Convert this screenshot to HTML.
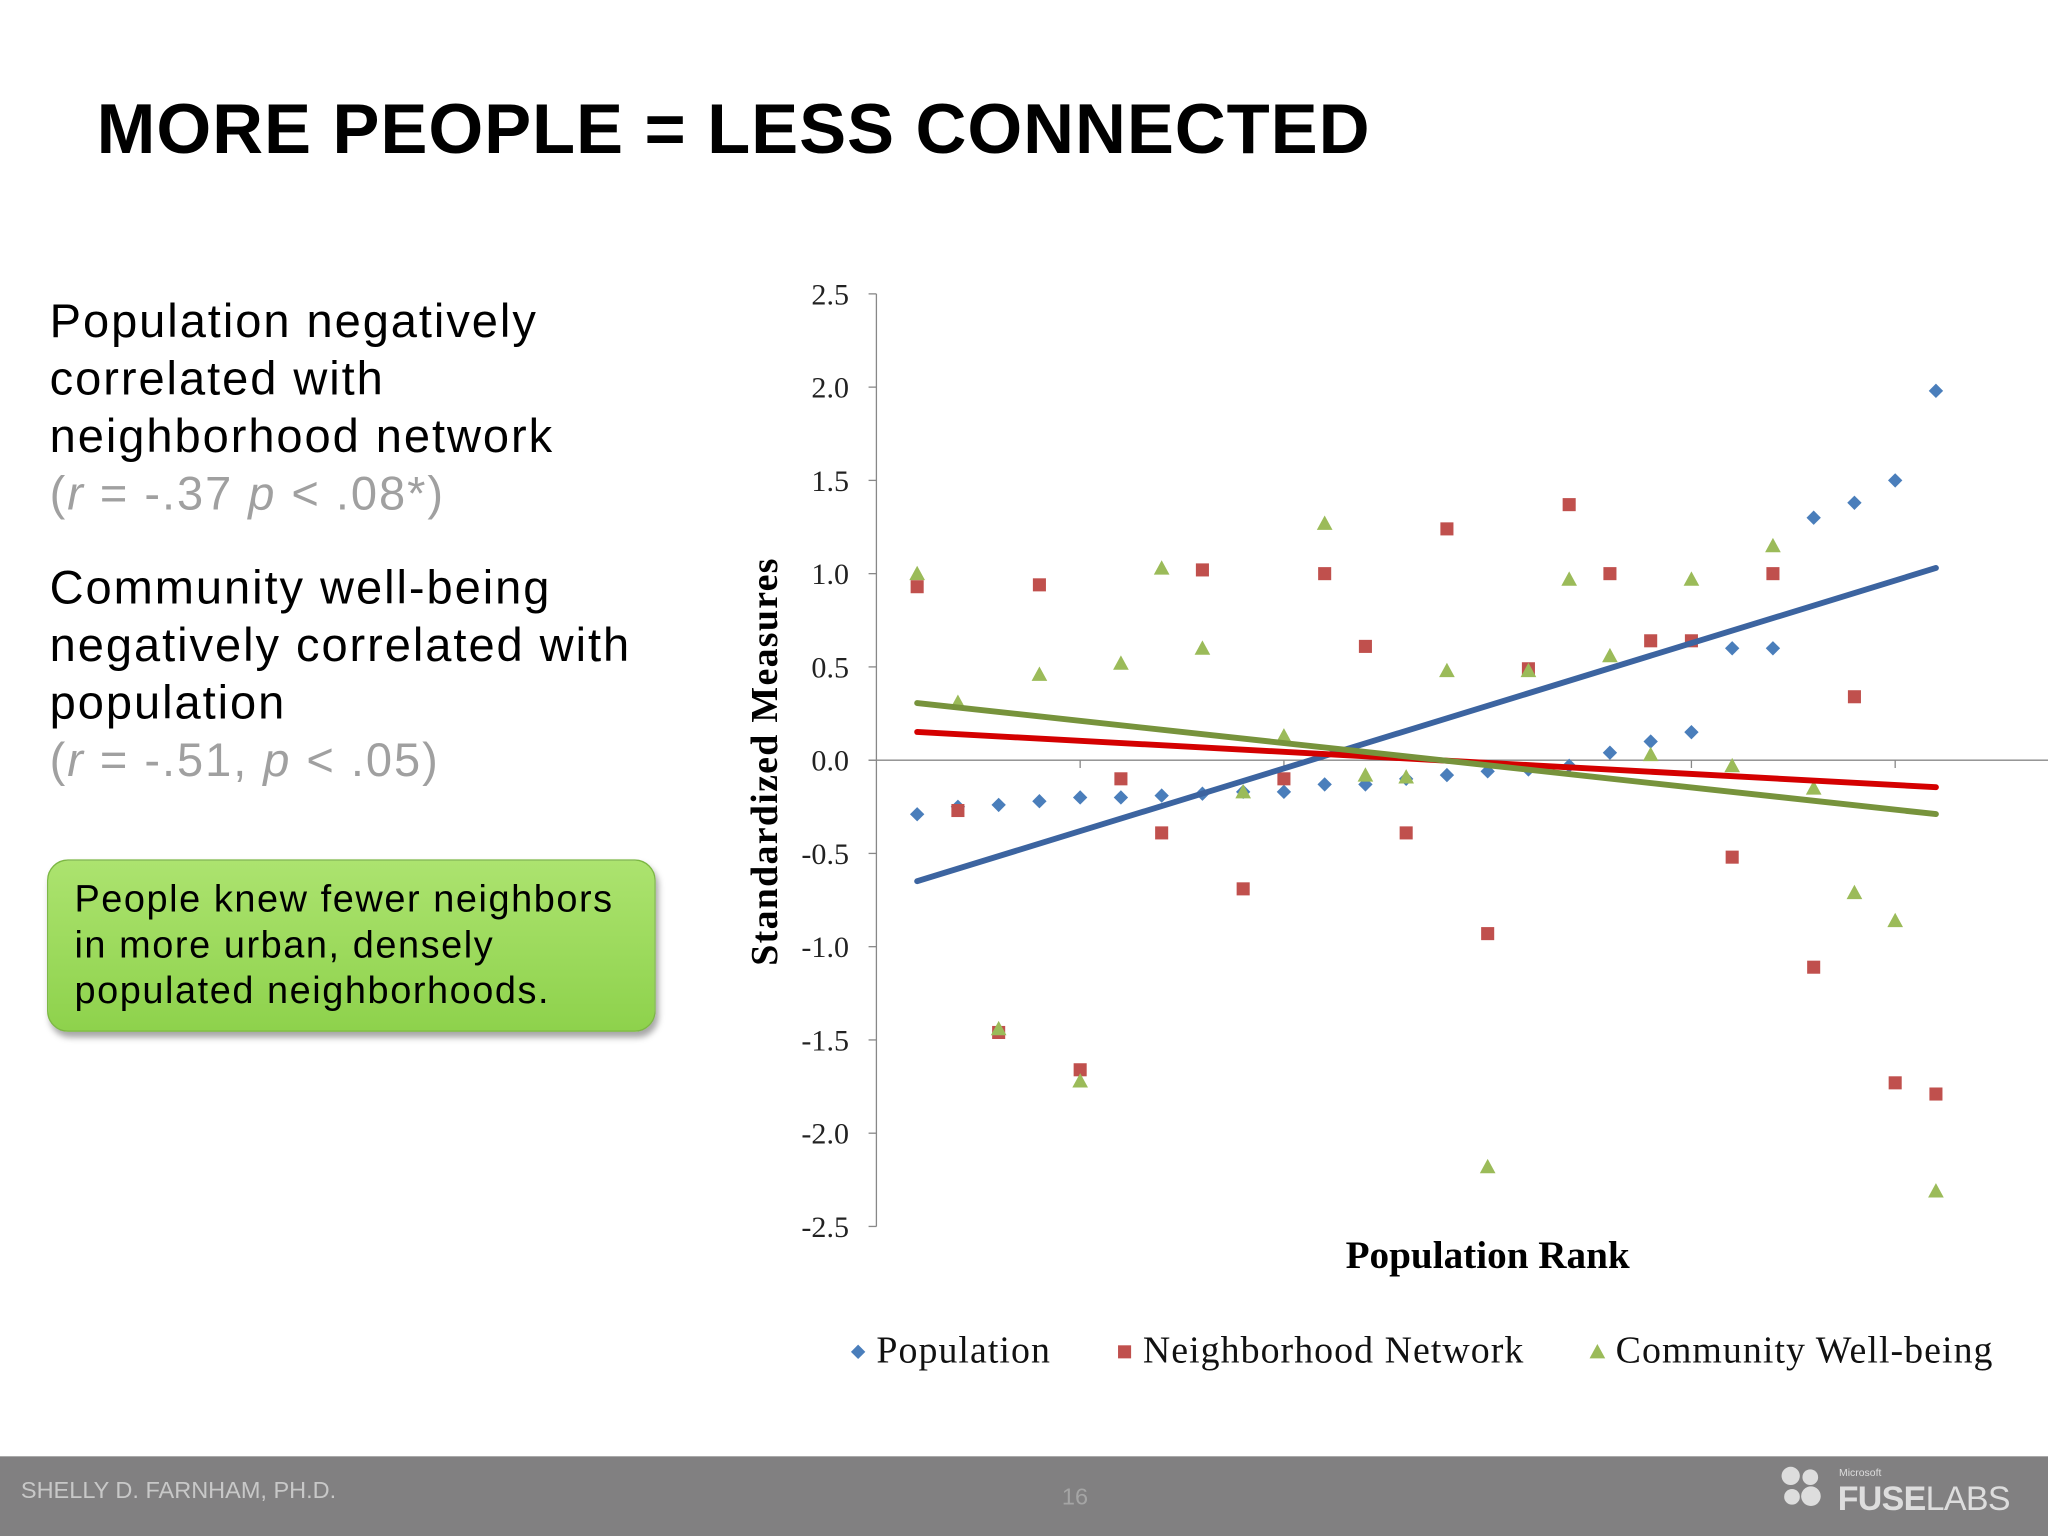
<!DOCTYPE html>
<html><head><meta charset="utf-8">
<style>
html,body{margin:0;padding:0;background:#fff;overflow:hidden;}
#wrap{position:absolute;left:0;top:0;width:1568px;height:1176px;transform:scale(1.306122);transform-origin:0 0;font-family:"Liberation Sans",sans-serif;background:#fff;}
.title{position:absolute;left:74px;top:68px;font-size:54px;font-weight:bold;color:#000;letter-spacing:0.7px;}
.para{position:absolute;left:38px;font-size:36px;line-height:44px;color:#000;letter-spacing:1.5px;}
.gray{color:#a0a0a0;}
.callout{position:absolute;left:36px;top:658px;width:466px;height:132px;border-radius:16px;background:linear-gradient(#acE36f,#8ed24c);border:1.5px solid #7cb744;box-shadow:2px 4px 5px rgba(0,0,0,0.35);box-sizing:border-box;padding:13px 0 0 20px;font-size:29px;line-height:35px;color:#000;letter-spacing:1.2px;}
.footer{position:absolute;left:0;top:1115px;width:1568px;height:61px;background:#818081;}
</style></head><body>
<div id="wrap">
<div class="title">MORE PEOPLE = LESS CONNECTED</div>
<div class="para" style="top:224px">Population negatively<br>correlated with<br>neighborhood network<br><span class="gray">(<i>r</i> = -.37 <i>p</i> &lt; .08*)</span></div>
<div class="para" style="top:428px">Community well-being<br>negatively correlated with<br>population<br><span class="gray">(<i>r</i> = -.51, <i>p</i> &lt; .05)</span></div>
<div class="callout">People knew fewer neighbors<br>in more urban, densely<br>populated neighborhoods.</div>
<svg id="chart" width="1568" height="1176" style="position:absolute;left:0;top:0"></svg>
<div class="footer">
 <div style="position:absolute;left:16px;top:16px;font-size:18px;color:#c8c8c8">SHELLY D. FARNHAM, PH.D.</div>
 <div style="position:absolute;left:813px;top:21px;font-size:18px;color:#a5a5a5">16</div>
 <div style="position:absolute;left:1364px;top:8px;width:32px;height:32px">
  <div style="position:absolute;left:0;top:0;width:14px;height:14px;border-radius:50%;background:#ddd"></div>
  <div style="position:absolute;left:16px;top:2px;width:12px;height:12px;border-radius:50%;background:#ddd"></div>
  <div style="position:absolute;left:2px;top:17px;width:12px;height:12px;border-radius:50%;background:#ddd"></div>
  <div style="position:absolute;left:15px;top:15px;width:15px;height:15px;border-radius:50%;background:#ddd"></div>
 </div>
 <div style="position:absolute;left:1408px;top:8px;font-size:8px;color:#ddd">Microsoft</div>
 <div style="position:absolute;left:1407px;top:17px;font-size:26px;color:#ddd;letter-spacing:-0.5px"><b>FUSE</b>LABS</div>
</div>
</div>
<script>
const categories=[1,2,3,4,5,6,7,8,9,10,11,12,13,14,15,16,17,18,19,20,21,22,23,24,25,26];
const population=[-0.29,-0.25,-0.24,-0.22,-0.20,-0.20,-0.19,-0.18,-0.17,-0.17,-0.13,-0.13,-0.10,-0.08,-0.06,-0.05,-0.03,0.04,0.10,0.15,0.60,0.60,1.30,1.38,1.50,1.98];
const network=[0.93,-0.27,-1.46,0.94,-1.66,-0.10,-0.39,1.02,-0.69,-0.10,1.00,0.61,-0.39,1.24,-0.93,0.49,1.37,1.00,0.64,0.64,-0.52,1.00,-1.11,0.34,-1.73,-1.79];
const wellbeing=[1.00,0.31,-1.44,0.46,-1.72,0.52,1.03,0.60,-0.17,0.13,1.27,-0.08,-0.09,0.48,-2.18,0.48,0.97,0.56,0.03,0.97,-0.03,1.15,-0.15,-0.71,-0.86,-2.31];
const yTicks=["2.5","2.0","1.5","1.0","0.5","0.0","-0.5","-1.0","-1.5","-2.0","-2.5"];

const NS="http://www.w3.org/2000/svg";
const svg=document.getElementById('chart');
const x0=671, dx=31.2, yZero=582, yUnit=142.8;
const X=i=>x0+dx*i;
const Y=v=>yZero-v*yUnit;
function mk(tag,attrs,parent){const e=document.createElementNS(NS,tag);for(const k in attrs)e.setAttribute(k,attrs[k]);(parent||svg).appendChild(e);return e;}

let e=mk('line',{x1:x0,y1:Y(2.5),x2:x0,y2:Y(-2.5),stroke:'#888','stroke-width':1});


e=mk('line',{x1:665,y1:yZero,x2:1568,y2:yZero,stroke:'#888','stroke-width':1});


for(let k=5;k<=25;k+=5){mk('line',{x1:X(k),y1:yZero,x2:X(k),y2:yZero+6,stroke:'#888'});}
yTicks.forEach(t=>{const v=parseFloat(t);
 mk('line',{x1:665,y1:Y(v),x2:x0,y2:Y(v),stroke:'#888'});
 const tx=mk('text',{x:650,y:Y(v)+8,'text-anchor':'end','font-family':'Liberation Serif, serif','font-size':23,fill:'#222'});
 tx.textContent=t;
 
 
});
e=mk('text',{x:0,y:0,transform:'translate(595,583) rotate(-90)','text-anchor':'middle','font-family':'Liberation Serif, serif','font-size':29,'font-weight':'bold','letter-spacing':'1px',fill:'#000'});
e.textContent='Standardized Measures';


e=mk('text',{x:1139,y:971,'text-anchor':'middle','font-family':'Liberation Serif, serif','font-size':30,'font-weight':'bold',fill:'#000'});
e.textContent='Population Rank';



function fit(ys){const n=ys.length;let sx=0,sy=0,sxx=0,sxy=0;categories.forEach((c,i)=>{sx+=c;sy+=ys[i];sxx+=c*c;sxy+=c*ys[i];});const b=(n*sxy-sx*sy)/(n*sxx-sx*sx);return [b,(sy-b*sx)/n];}
function marker(kind,cx,cy,color,name){let m;
 if(kind==='d') m=mk('polygon',{points:`${cx},${cy-5.5} ${cx+5.5},${cy} ${cx},${cy+5.5} ${cx-5.5},${cy}`,fill:color});
 else if(kind==='s') m=mk('rect',{x:cx-5,y:cy-5,width:10,height:10,fill:color});
 else m=mk('polygon',{points:`${cx},${cy-6} ${cx+6},${cy+5} ${cx-6},${cy+5}`,fill:color});
 
 
}
const series=[[population,'d','#4a7ebb','#3c64a0','population'],[network,'s','#c0504d','#d40000','network'],[wellbeing,'t','#9bbb59','#77933c','wellbeing']];
series.forEach(([d,k,c,lc,nm])=>{d.forEach((v,i)=>marker(k,X(categories[i]),Y(v),c,nm+'-point'));});
series.forEach(([d,k,c,lc,nm])=>{const [b,a]=fit(d);const f=categories[0],l=categories[categories.length-1];
 const ln=mk('line',{x1:X(f),y1:Y(a+b*f),x2:X(l),y2:Y(a+b*l),stroke:lc,'stroke-width':4.5,'stroke-linecap':'round'});
 
 
});
const leg=[['d','#4a7ebb','Population',657],['s','#c0504d','Neighborhood Network',861],['t','#9bbb59','Community Well-being',1223]];
leg.forEach(([k,c,t,lx])=>{marker(k,lx,1035,c,'legend-marker');
 const tx=mk('text',{x:lx+14,y:1043,'font-family':'Liberation Serif, serif','font-size':29,'letter-spacing':'0.8px',fill:'#111'});
 tx.textContent=t;
 
 
});
</script>
</body></html>
